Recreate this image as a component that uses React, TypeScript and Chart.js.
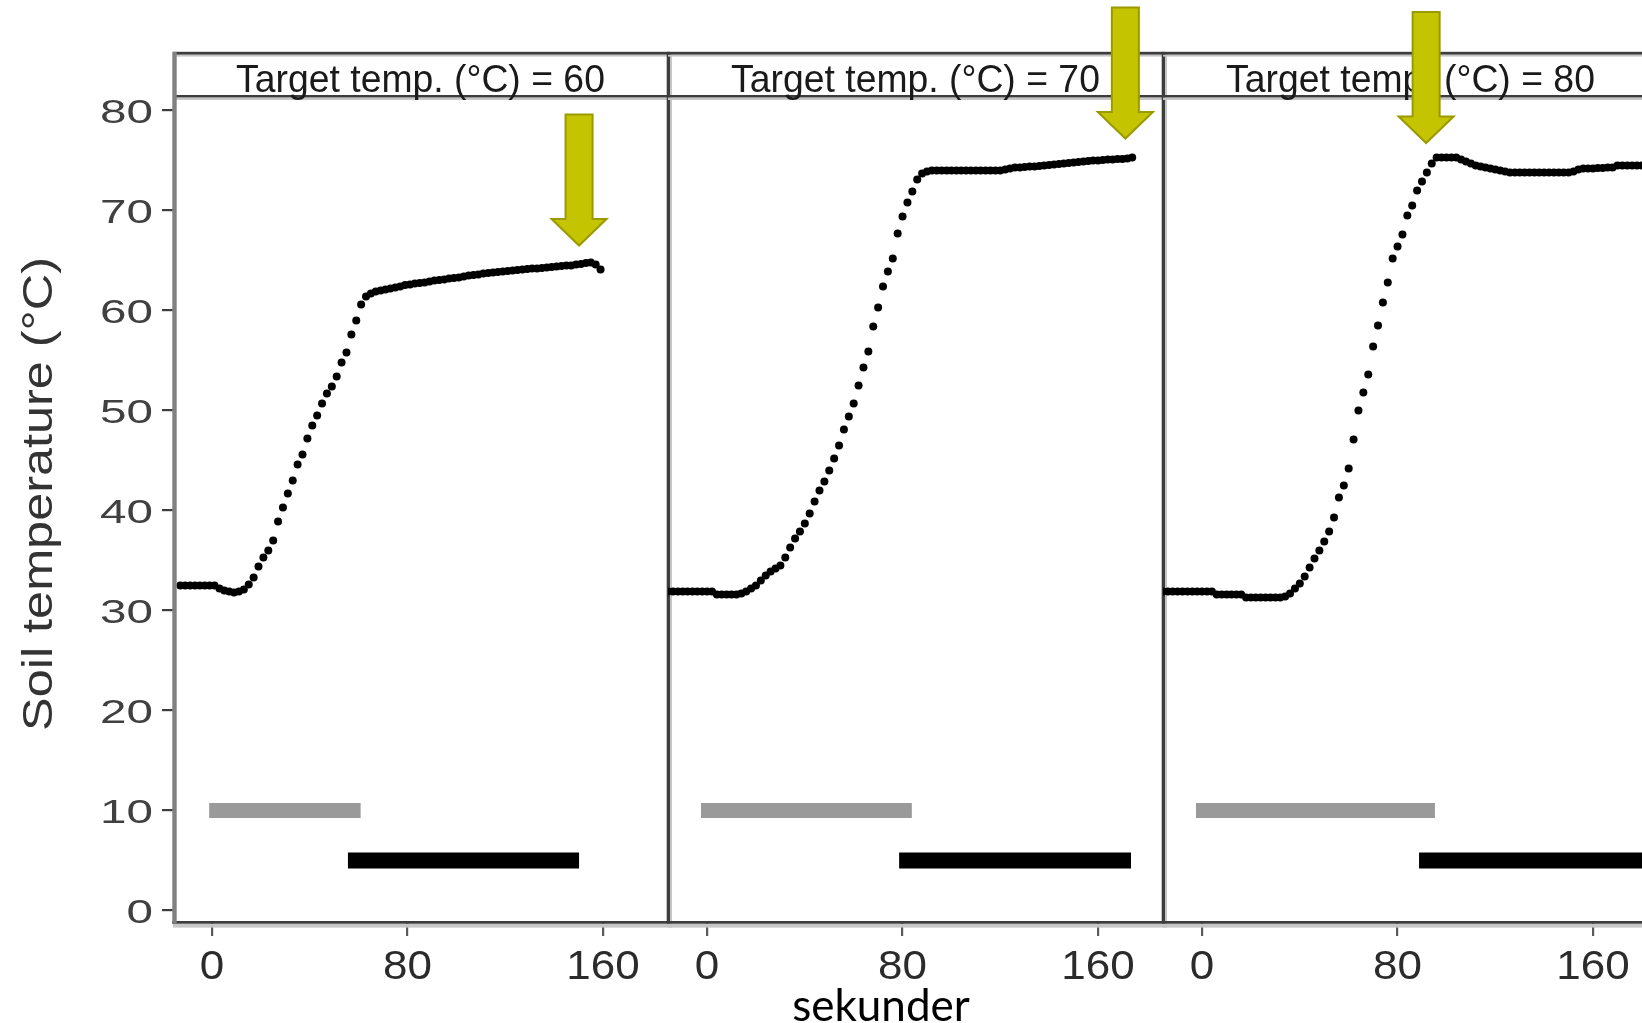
import React, { useEffect, useRef } from "react";
import { Chart, registerables } from "chart.js";

Chart.register(...registerables);

// ---------------- data ----------------
const panelTitles = ["Target temp. (°C) = 60", "Target temp. (°C) = 70", "Target temp. (°C) = 80"];
const xTickValues = [0, 80, 160];
const yTickValues = [0, 10, 20, 30, 40, 50, 60, 70, 80];
const xAxisTitle = "sekunder";
const yAxisTitle = "Soil temperature (°C)";

// readings logged every 2 s, first reading at startTimes[i] seconds
const sampleInterval = 2;
const startTimes = [-13, -16, -16];

const temp60 = [
  32.5, 32.5, 32.5, 32.5, 32.5, 32.5, 32.5, 32.5,
  32.2, 32.0, 31.9, 31.8, 31.9, 32.1,
  32.6, 33.3, 34.4, 35.3, 36.0, 37.0, 38.9, 40.3, 41.7, 43.0, 44.6, 45.6,
  47.2, 48.5, 49.5, 50.7, 51.7, 52.4, 53.4, 54.8, 55.8, 57.6, 59.0, 60.6,
  61.4, 61.7, 61.9, 62.0, 62.1, 62.2, 62.3, 62.4, 62.55, 62.6, 62.7, 62.75,
  62.8, 62.9, 63.0, 63.05, 63.1, 63.2, 63.25, 63.3, 63.4, 63.5, 63.55, 63.6,
  63.7, 63.75, 63.8, 63.85, 63.9, 63.95, 64.0, 64.05, 64.1, 64.15, 64.2, 64.2,
  64.25, 64.3, 64.35, 64.4, 64.45, 64.5, 64.5, 64.6, 64.65, 64.75, 64.8, 64.6, 64.1,
];

const temp70 = [
  31.9, 31.9, 31.9, 31.9, 31.9, 31.9, 31.9, 31.9, 31.9, 31.9,
  31.6, 31.6, 31.6, 31.6, 31.6,
  31.7, 31.9, 32.2, 32.5, 33.0, 33.5, 33.9, 34.2, 34.5, 35.3,
  36.3, 37.2, 37.9, 38.7, 39.7, 40.9, 42.0, 42.9, 44.0, 45.2,
  46.5, 48.1, 49.4, 50.7, 52.5, 54.3, 55.9, 58.4, 60.3, 62.4,
  63.9, 65.2, 67.7, 69.4, 70.8, 71.9, 73.1, 73.7, 73.9, 74.0,
  74.0, 74.0, 74.0, 74.0, 74.0, 74.0, 74.0, 74.0, 74.0, 74.0, 74.0, 74.0, 74.0, 74.0,
  74.1, 74.2, 74.3,
  74.3, 74.35, 74.4, 74.4, 74.45, 74.5,
  74.55, 74.6, 74.65, 74.7, 74.75, 74.8, 74.85, 74.9,
  74.95, 75.0, 75.0, 75.05, 75.1, 75.1, 75.15, 75.15, 75.2, 75.3,
];

const temp80 = [
  31.9, 31.9, 31.9, 31.9, 31.9, 31.9, 31.9, 31.9, 31.9, 31.9, 31.9,
  31.6, 31.6, 31.6, 31.6, 31.6, 31.6,
  31.3, 31.3, 31.3, 31.3, 31.3, 31.3, 31.3, 31.3,
  31.4, 31.7, 32.2, 32.7, 33.4, 34.3, 35.2, 36.0, 36.9, 37.9,
  39.3, 41.3, 42.5, 44.2, 47.1, 50.0, 51.8, 53.6, 56.4, 58.5,
  60.8, 62.8, 65.2, 66.4, 67.6, 69.5, 70.5, 72.0, 72.9, 73.8, 74.7, 75.3,
  75.3, 75.3, 75.3, 75.3, 75.1, 74.9, 74.7, 74.5, 74.4, 74.3, 74.2, 74.1, 74.0, 73.9, 73.8,
  73.8, 73.8, 73.8, 73.8, 73.8, 73.8, 73.8, 73.8, 73.8, 73.8, 73.8, 73.8,
  73.9, 74.1, 74.2, 74.2, 74.2, 74.25, 74.25, 74.3, 74.3,
  74.5, 74.5, 74.5, 74.5, 74.5, 74.5, 74.5, 74.5,
];

const panelTemps = [temp60, temp70, temp80];

// grey (heating) and black (holding) bars, seconds
const greyLevel = 10;
const greyStart = [-1.2, -2.5, -2.5];
const greyEnd = [60.8, 83.8, 95.3];
const blackLevel = 5;
const blackStart = [55.6, 78.6, 88.8];
const blackEnd = [150.2, 173.5, 186];

// arrows: time position and temperature at the arrow tip
const arrowTime = [150.2, 171.2, 91.7];
const arrowTipTemp = [66.5, 77.2, 76.75];

// ---------------- geometry / style ----------------
const CANVAS_W = 1700;
const CANVAS_H = 1023;
const PANEL_LEFT = [173, 668, 1163];
const PANEL_W = 495;
const STRIP_TOP = 53;
const PLOT_TOP = 97;
const PLOT_BOTTOM = 922;
const X_MIN = -16;
const X_MAX = 186.6;
const Y_MIN = -1.15;
const Y_MAX = 81.35;
const SANS = "'Liberation Sans', Arial, Helvetica, sans-serif";

function drawText(
  ctx: CanvasRenderingContext2D,
  text: string,
  x: number,
  y: number,
  font: string,
  color: string,
  align: CanvasTextAlign,
  sx = 1,
  sy = 1,
  rotate = 0
) {
  ctx.save();
  ctx.translate(x, y);
  if (rotate) ctx.rotate(rotate);
  ctx.scale(sx, sy);
  ctx.font = font;
  ctx.fillStyle = color;
  ctx.textAlign = align;
  ctx.textBaseline = "alphabetic";
  ctx.fillText(text, 0, 0);
  ctx.restore();
}

function decorPlugin(i: number) {
  return {
    id: "panelDecor" + i,
    afterDraw(chart: any) {
      const ctx: CanvasRenderingContext2D = chart.ctx;
      const { left, right, top, bottom } = chart.chartArea;
      const xs = chart.scales.x;
      const ys = chart.scales.y;
      const w = right - left;
      ctx.save();

      // light shadow lines (scan artefact look)
      ctx.fillStyle = "#c6c6c6";
      ctx.fillRect(left, STRIP_TOP + 1.6, w, 2);
      ctx.fillRect(left, top + 0.3, w, 2.7);
      ctx.fillRect(left, bottom + 1.6, w + 4, 4);
      ctx.fillRect(right + 2, STRIP_TOP, 2, bottom - STRIP_TOP + 5);

      // dark borders
      ctx.fillStyle = "#3d3d3d";
      ctx.fillRect(left, STRIP_TOP - 1.2, w, 2.8);
      ctx.fillRect(left, top - 2, w, 2.4);
      ctx.fillRect(left - 1, bottom - 1, w + 3, 2.7);
      ctx.fillRect(right - 1.3, STRIP_TOP - 1.2, 3.3, bottom - STRIP_TOP + 2.5);
      if (i === 0) {
        ctx.fillStyle = "#808080";
        ctx.fillRect(left - 0.7, STRIP_TOP - 1.2, 4.4, bottom - STRIP_TOP + 2.5);
      }

      // strip label
      drawText(ctx, panelTitles[i], (left + right) / 2, 91.5, `38.5px ${SANS}`, "#1a1a1a", "center", 0.97, 1);

      // x tick labels
      xTickValues.forEach((v) => {
        drawText(ctx, String(v), xs.getPixelForValue(v), 979, `40px ${SANS}`, "#2b2b2b", "center", 1.1, 1);
      });

      if (i === 0) {
        // y tick labels
        yTickValues.forEach((v) => {
          drawText(ctx, String(v), 153, ys.getPixelForValue(v) + 12.2, `34px ${SANS}`, "#404040", "right", 1.4, 1);
        });
        // y axis title
        drawText(ctx, yAxisTitle, 51.5, 494, `42px ${SANS}`, "#333333", "center", 1.2, 1, -Math.PI / 2);
      }
      if (i === 1) {
        drawText(ctx, xAxisTitle, 881, 1021, `44px Lato, 'Open Sans', sans-serif`, "#000000", "center", 1, 1);
      }

      // arrow
      const cx = xs.getPixelForValue(arrowTime[i]);
      const tip = ys.getPixelForValue(arrowTipTemp[i]);
      const len = 131, shaftHalf = 13.5, headHalf = 27.5, headH = 26.5;
      ctx.beginPath();
      ctx.moveTo(cx - shaftHalf, tip - len);
      ctx.lineTo(cx + shaftHalf, tip - len);
      ctx.lineTo(cx + shaftHalf, tip - headH);
      ctx.lineTo(cx + headHalf, tip - headH);
      ctx.lineTo(cx, tip);
      ctx.lineTo(cx - headHalf, tip - headH);
      ctx.lineTo(cx - shaftHalf, tip - headH);
      ctx.closePath();
      ctx.fillStyle = "#c4c400";
      ctx.fill();
      ctx.lineWidth = 2;
      ctx.strokeStyle = "#9a9a00";
      ctx.stroke();

      ctx.restore();
    },
  };
}

function makeConfig(i: number): any {
  const temps = panelTemps[i];
  const points = temps.map((t, k) => ({ x: startTimes[i] + k * sampleInterval, y: t }));
  const right = PANEL_LEFT[i] + PANEL_W;
  return {
    type: "scatter",
    data: {
      datasets: [
        {
          data: points,
          showLine: false,
          pointRadius: 4,
          pointBackgroundColor: "#000000",
          pointBorderWidth: 0,
          pointStyle: "circle",
        },
        {
          data: [
            { x: greyStart[i], y: greyLevel },
            { x: greyEnd[i], y: greyLevel },
          ],
          showLine: true,
          borderColor: "#9a9a9a",
          borderWidth: 15,
          borderCapStyle: "butt",
          pointRadius: 0,
          fill: false,
        },
        {
          data: [
            { x: blackStart[i], y: blackLevel },
            { x: blackEnd[i], y: blackLevel },
          ],
          showLine: true,
          borderColor: "#000000",
          borderWidth: 16,
          borderCapStyle: "butt",
          pointRadius: 0,
          fill: false,
        },
      ],
    },
    options: {
      responsive: false,
      animation: false,
      devicePixelRatio: 1,
      events: [],
      layout: {
        padding: {
          left: i === 0 ? 0 : PANEL_LEFT[i],
          right: CANVAS_W - right,
          top: PLOT_TOP,
          bottom: 0,
        },
      },
      plugins: {
        legend: { display: false },
        tooltip: { enabled: false },
        title: { display: false },
      },
      scales: {
        x: {
          type: "linear",
          position: "bottom",
          min: X_MIN,
          max: X_MAX,
          afterBuildTicks: (s: any) => {
            s.ticks = xTickValues.map((v) => ({ value: v }));
          },
          afterFit: (s: any) => {
            s.height = CANVAS_H - PLOT_BOTTOM;
          },
          ticks: { display: false },
          border: { display: false },
          grid: {
            display: true,
            drawOnChartArea: false,
            drawTicks: true,
            tickLength: 14,
            lineWidth: 2.2,
            color: "#5a5a5a",
          },
        },
        y: {
          type: "linear",
          position: "left",
          display: i === 0,
          min: Y_MIN,
          max: Y_MAX,
          afterBuildTicks: (s: any) => {
            s.ticks = yTickValues.map((v) => ({ value: v }));
          },
          afterFit: (s: any) => {
            s.width = i === 0 ? PANEL_LEFT[0] : 0;
          },
          ticks: { display: false },
          border: { display: false },
          grid: {
            display: true,
            drawOnChartArea: false,
            drawTicks: true,
            tickLength: 11,
            lineWidth: 2.2,
            color: "#3d3d3d",
          },
        },
      },
    },
    plugins: [decorPlugin(i)],
  };
}

export default function App() {
  const r0 = useRef<HTMLCanvasElement>(null);
  const r1 = useRef<HTMLCanvasElement>(null);
  const r2 = useRef<HTMLCanvasElement>(null);

  useEffect(() => {
    const refs = [r0, r1, r2];
    const charts = refs.map((r, i) => new Chart(r.current as HTMLCanvasElement, makeConfig(i)));
    return () => charts.forEach((c) => c.destroy());
  }, []);

  const canvasStyle: React.CSSProperties = {
    position: "absolute",
    left: 0,
    top: 0,
    width: CANVAS_W,
    height: CANVAS_H,
  };

  return (
    <div
      style={{
        position: "fixed",
        left: 0,
        top: 0,
        width: 1642,
        height: 1023,
        overflow: "hidden",
        background: "#ffffff",
      }}
    >
      <canvas ref={r0} width={CANVAS_W} height={CANVAS_H} style={canvasStyle} />
      <canvas ref={r1} width={CANVAS_W} height={CANVAS_H} style={canvasStyle} />
      <canvas ref={r2} width={CANVAS_W} height={CANVAS_H} style={canvasStyle} />
    </div>
  );
}
